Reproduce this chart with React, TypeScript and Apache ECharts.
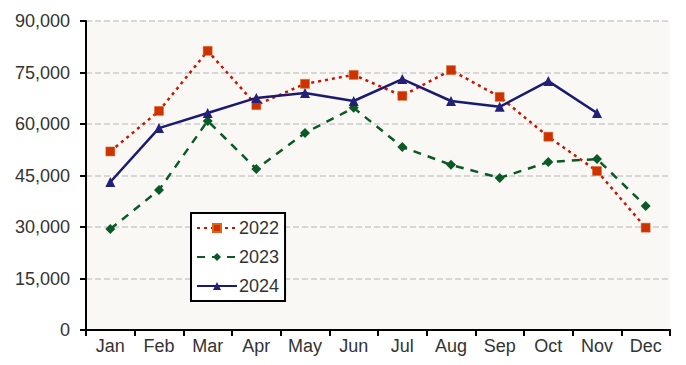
import React, { useEffect, useRef } from "react";
import * as echarts from "echarts";

const months = ["Jan", "Feb", "Mar", "Apr", "May", "Jun", "Jul", "Aug", "Sep", "Oct", "Nov", "Dec"];
const s2022 = [52000, 63800, 81300, 65500, 71700, 74300, 68200, 75700, 67900, 56300, 46300, 29800];
const s2023 = [29400, 40800, 60900, 46900, 57400, 64700, 53300, 48100, 44300, 48900, 49800, 36100];
const s2024 = [43100, 58800, 63200, 67600, 69000, 66700, 73100, 66700, 65000, 72500, 63200, null];

export default function App() {
  const ref = useRef<HTMLDivElement>(null);
  useEffect(() => {
    const chart = echarts.init(ref.current!, undefined, { renderer: "svg" });
    const font = "Liberation Sans, Arial, sans-serif";
    chart.setOption({
      animation: false,
      textStyle: { fontFamily: font },
      grid: {
        left: 86,
        top: 21,
        right: 16,
        bottom: 35,
        show: true,
        backgroundColor: "#f9f8f5",
        borderWidth: 0,
      },
      legend: {
        orient: "vertical",
        left: 191,
        top: 213,
        backgroundColor: "#ffffff",
        borderColor: "#000000",
        borderWidth: 2,
        borderRadius: 0,
        padding: [6, 6, 6, 5],
        itemWidth: 40,
        itemHeight: 10,
        itemGap: 11,
        textStyle: { fontSize: 18, color: "#333333", fontFamily: font, padding: [0, 0, 0, -3] },
        data: ["2022", "2023", "2024"],
      },
      xAxis: {
        type: "category",
        data: months,
        boundaryGap: true,
        axisLine: { lineStyle: { color: "#000000", width: 2 } },
        axisTick: { show: true, length: 6, lineStyle: { color: "#000000", width: 2 } },
        axisLabel: { fontSize: 18, color: "#333333", margin: 7, fontFamily: font },
        splitLine: { show: false },
      },
      yAxis: {
        type: "value",
        min: 0,
        max: 90000,
        interval: 15000,
        axisLine: { show: true, lineStyle: { color: "#000000", width: 2 } },
        axisTick: { show: true, length: 6, lineStyle: { color: "#000000", width: 2 } },
        axisLabel: {
          fontSize: 18,
          color: "#333333",
          margin: 16,
          fontFamily: font,
          formatter: (v: number) => v.toLocaleString("en-US"),
        },
        splitLine: { show: true, lineStyle: { color: "#cccccc", type: "dashed", width: 1.5 } },
      },
      series: [
        {
          name: "2022",
          type: "line",
          data: s2022,
          symbol: "rect",
          symbolSize: 9,
          itemStyle: { color: "#cc3300", borderColor: "#e06020", borderWidth: 0.5 },
          lineStyle: { color: "#cc1100", width: 2.5, type: [3, 4] },
          z: 3,
        },
        {
          name: "2023",
          type: "line",
          data: s2023,
          symbol: "diamond",
          symbolSize: 10,
          itemStyle: { color: "#0b5a26" },
          lineStyle: { color: "#0b5a26", width: 2.5, type: [8, 7] },
          z: 2,
        },
        {
          name: "2024",
          type: "line",
          data: s2024,
          symbol: "triangle",
          symbolSize: 10,
          itemStyle: { color: "#22207a" },
          lineStyle: { color: "#1a1a70", width: 2.5 },
          z: 4,
        },
      ],
    });
    return () => chart.dispose();
  }, []);
  return <div ref={ref} style={{ width: 686, height: 365, position: "absolute", left: 0, top: 0 }} />;
}
